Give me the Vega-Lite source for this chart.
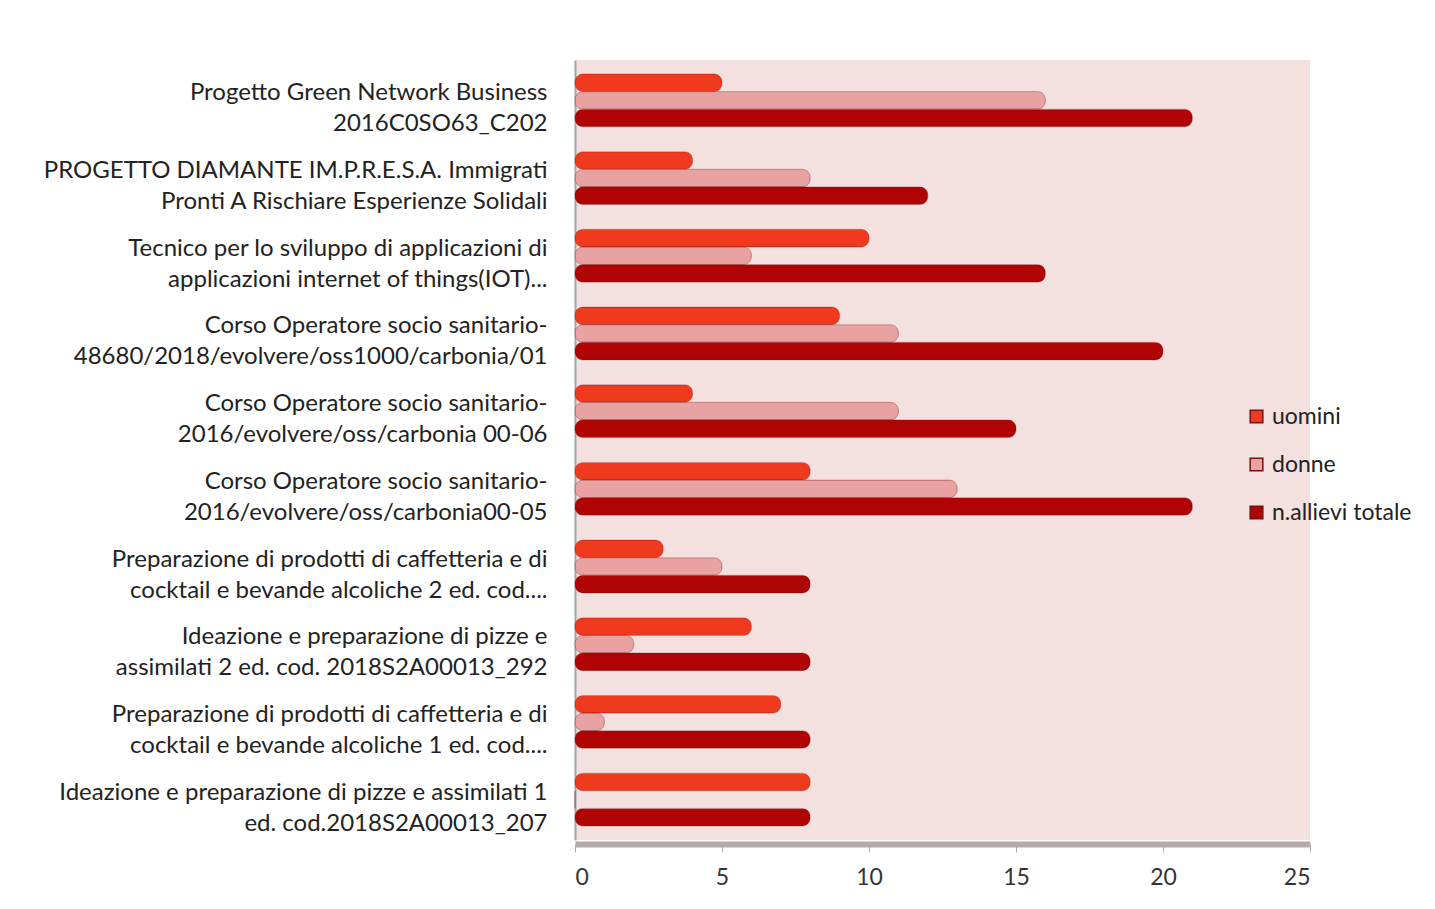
{
  "$schema": "https://vega.github.io/schema/vega-lite/v6.json",
  "autosize": "none",
  "width": 735,
  "height": 780,
  "padding": {"left": 575, "top": 60, "right": 125, "bottom": 69},
  "background": "white",
  "config": {
    "font": "Lato",
    "view": {"fill": "#f4e0df", "stroke": null}
  },
  "data": {
    "values": [
      {"corso": "Progetto Green Network Business|2016C0SO63_C202", "serie": "uomini", "valore": 5},
      {"corso": "Progetto Green Network Business|2016C0SO63_C202", "serie": "donne", "valore": 16},
      {"corso": "Progetto Green Network Business|2016C0SO63_C202", "serie": "n.allievi totale", "valore": 21},
      {"corso": "PROGETTO DIAMANTE  IM.P.R.E.S.A.  Immigrati|Pronti A Rischiare Esperienze Solidali", "serie": "uomini", "valore": 4},
      {"corso": "PROGETTO DIAMANTE  IM.P.R.E.S.A.  Immigrati|Pronti A Rischiare Esperienze Solidali", "serie": "donne", "valore": 8},
      {"corso": "PROGETTO DIAMANTE  IM.P.R.E.S.A.  Immigrati|Pronti A Rischiare Esperienze Solidali", "serie": "n.allievi totale", "valore": 12},
      {"corso": "Tecnico per lo sviluppo di applicazioni di|applicazioni internet of things(IOT)...", "serie": "uomini", "valore": 10},
      {"corso": "Tecnico per lo sviluppo di applicazioni di|applicazioni internet of things(IOT)...", "serie": "donne", "valore": 6},
      {"corso": "Tecnico per lo sviluppo di applicazioni di|applicazioni internet of things(IOT)...", "serie": "n.allievi totale", "valore": 16},
      {"corso": "Corso Operatore socio sanitario-|48680/2018/evolvere/oss1000/carbonia/01", "serie": "uomini", "valore": 9},
      {"corso": "Corso Operatore socio sanitario-|48680/2018/evolvere/oss1000/carbonia/01", "serie": "donne", "valore": 11},
      {"corso": "Corso Operatore socio sanitario-|48680/2018/evolvere/oss1000/carbonia/01", "serie": "n.allievi totale", "valore": 20},
      {"corso": "Corso Operatore socio sanitario-|2016/evolvere/oss/carbonia 00-06", "serie": "uomini", "valore": 4},
      {"corso": "Corso Operatore socio sanitario-|2016/evolvere/oss/carbonia 00-06", "serie": "donne", "valore": 11},
      {"corso": "Corso Operatore socio sanitario-|2016/evolvere/oss/carbonia 00-06", "serie": "n.allievi totale", "valore": 15},
      {"corso": "Corso Operatore socio sanitario-|2016/evolvere/oss/carbonia00-05", "serie": "uomini", "valore": 8},
      {"corso": "Corso Operatore socio sanitario-|2016/evolvere/oss/carbonia00-05", "serie": "donne", "valore": 13},
      {"corso": "Corso Operatore socio sanitario-|2016/evolvere/oss/carbonia00-05", "serie": "n.allievi totale", "valore": 21},
      {"corso": "Preparazione di prodotti di caffetteria e di|cocktail e bevande alcoliche 2 ed. cod....", "serie": "uomini", "valore": 3},
      {"corso": "Preparazione di prodotti di caffetteria e di|cocktail e bevande alcoliche 2 ed. cod....", "serie": "donne", "valore": 5},
      {"corso": "Preparazione di prodotti di caffetteria e di|cocktail e bevande alcoliche 2 ed. cod....", "serie": "n.allievi totale", "valore": 8},
      {"corso": "Ideazione e preparazione di pizze e|assimilati 2 ed. cod. 2018S2A00013_292", "serie": "uomini", "valore": 6},
      {"corso": "Ideazione e preparazione di pizze e|assimilati 2 ed. cod. 2018S2A00013_292", "serie": "donne", "valore": 2},
      {"corso": "Ideazione e preparazione di pizze e|assimilati 2 ed. cod. 2018S2A00013_292", "serie": "n.allievi totale", "valore": 8},
      {"corso": "Preparazione di prodotti di caffetteria e di|cocktail e bevande alcoliche 1 ed. cod....", "serie": "uomini", "valore": 7},
      {"corso": "Preparazione di prodotti di caffetteria e di|cocktail e bevande alcoliche 1 ed. cod....", "serie": "donne", "valore": 1},
      {"corso": "Preparazione di prodotti di caffetteria e di|cocktail e bevande alcoliche 1 ed. cod....", "serie": "n.allievi totale", "valore": 8},
      {"corso": "Ideazione e preparazione di pizze e assimilati 1|ed. cod.2018S2A00013_207", "serie": "uomini", "valore": 8},
      {"corso": "Ideazione e preparazione di pizze e assimilati 1|ed. cod.2018S2A00013_207", "serie": "donne", "valore": 0},
      {"corso": "Ideazione e preparazione di pizze e assimilati 1|ed. cod.2018S2A00013_207", "serie": "n.allievi totale", "valore": 8}
    ]
  },
  "mark": {"type": "bar", "cornerRadius": 8, "stroke": "#7a1010", "strokeWidth": 0.6, "strokeOpacity": 0.5},
  "encoding": {
    "y": {
      "field": "corso",
      "type": "nominal",
      "sort": null,
      "scale": {"paddingInner": 0.32, "paddingOuter": 0.18},
      "axis": {
        "title": null,
        "labelExpr": "split(datum.value, '|')",
        "labelFont": "Lato",
        "labelFontSize": 24,
        "labelColor": "#222222",
        "labelLineHeight": 31,
        "labelPadding": 28,
        "labelOffset": -7,
        "labelLimit": 600,
        "ticks": false,
        "domainColor": "#9aa8b0",
        "domainWidth": 2
      }
    },
    "yOffset": {
      "field": "serie",
      "type": "nominal",
      "sort": ["uomini", "donne", "n.allievi totale"],
      "scale": {"paddingInner": 0, "paddingOuter": 0}
    },
    "x": {
      "field": "valore",
      "type": "quantitative",
      "scale": {"domain": [0, 25]},
      "axis": {
        "title": null,
        "values": [0, 5, 10, 15, 20, 25],
        "grid": false,
        "labelFont": "Lato",
        "labelFontSize": 23,
        "labelColor": "#333333",
        "labelPadding": 14,
        "offset": 4,
        "domainColor": "#b5aaaa",
        "domainWidth": 6,
        "tickColor": "#b5aaaa",
        "tickSize": 8
      }
    },
    "color": {
      "field": "serie",
      "type": "nominal",
      "sort": ["uomini", "donne", "n.allievi totale"],
      "scale": {
        "domain": ["uomini", "donne", "n.allievi totale"],
        "range": ["#f03a1e", "#e8a2a2", "#b00404"]
      },
      "legend": {
        "title": null,
        "orient": "none",
        "legendX": 670,
        "legendY": 345,
        "symbolType": "square",
        "symbolSize": 160,
        "labelFont": "Lato",
        "labelFontSize": 23,
        "labelColor": "#222222",
        "rowPadding": 24,
        "labelOffset": 4,
        "labelLimit": 300
      }
    }
  }
}
